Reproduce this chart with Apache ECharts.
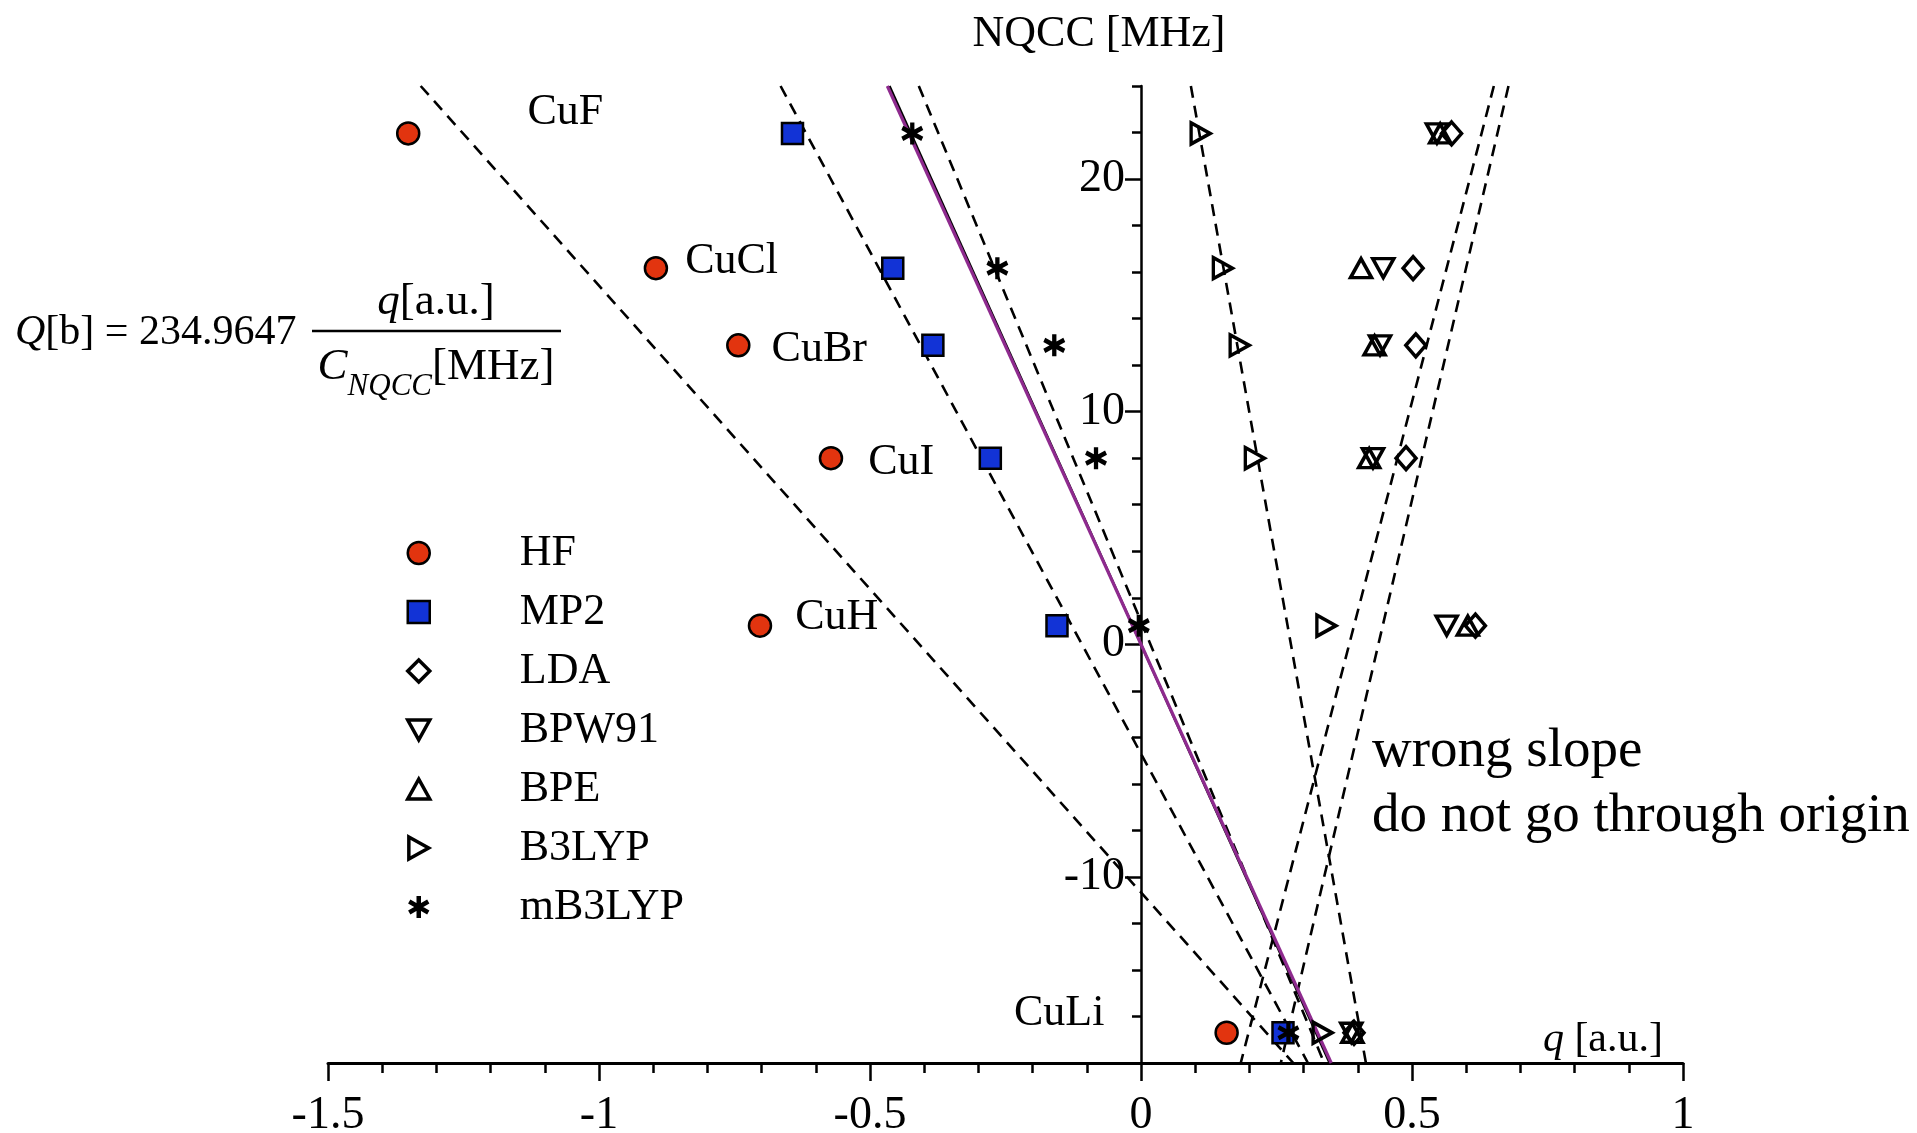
<!DOCTYPE html>
<html>
<head>
    <meta charset="UTF-8">
    <title>Cu NQCC vs field gradient</title>
    <style>
        html, body {
            margin: 0;
            padding: 0;
            width: 100%;
            height: 100%;
            overflow: hidden;
            background: #fff;
        }
        #main {
            width: 100%;
            height: 100%;
        }
    </style>
    <script src="https://cdn.jsdelivr.net/npm/echarts@6/dist/echarts.min.js"></script>
</head>
<body>
    <div id="main"></div>

    <script>
        // molecules and their NQCC [MHz] (vertical axis)
        const compounds = ['CuF', 'CuCl', 'CuBr', 'CuI', 'CuH', 'CuLi'];
        const nqcc = [21.96, 16.17, 12.85, 8.0, 0.8, -16.7];

        // field gradient q [a.u.] for each method, same order as compounds
        const qHF = [-1.352, -0.895, -0.743, -0.572, -0.703, 0.158];
        const qMP2 = [-0.643, -0.458, -0.384, -0.278, -0.155, 0.262];
        const qLDA = [0.573, 0.502, 0.507, 0.489, 0.617, 0.393];
        const qBPW91 = [0.546, 0.447, 0.441, 0.428, 0.564, 0.388];
        const qBPE = [0.552, 0.406, 0.431, 0.421, 0.603, 0.390];
        const qB3LYP = [0.110, 0.151, 0.182, 0.210, 0.342, 0.335];
        const qmB3LYP = [-0.422, -0.265, -0.160, -0.083, -0.004, 0.272];

        const methods = ['HF', 'MP2', 'LDA', 'BPW91', 'BPE', 'B3LYP', 'mB3LYP'];

        // fitted lines, end points as [q, NQCC]
        const lineHF = [[-1.329, 24], [0.281, -18]];
        const lineMP2 = [[-0.665, 24], [0.308, -18]];
        const linemB3LYP = [[-0.410, 24], [0.338, -18]];
        const lineB3LYP = [[0.092, 24], [0.415, -18]];
        const lineWrongA = [[0.651, 24], [0.184, -18]];
        const lineWrongB = [[0.678, 24], [0.258, -18]];
        const lineRefBlack = [[-0.464, 24], [0.348, -18]];
        const lineRefPurple = [[-0.468, 24], [0.351, -18]];

        // axes
        const xRange = [-1.5, 1];
        const yRange = [-18, 24];
        const yMajorTicks = [-10, 0, 10, 20];

        const SERIF = '"Liberation Serif", "Times New Roman", Times, serif';
        const RED = '#e2340f';
        const BLUE = '#1233d6';
        const PURPLE = '#8e2a8e';
        const OPEN = 'rgba(0,0,0,0)';

        const markers = {
            HF: { symbol: 'circle', size: 22, fill: RED, border: 2.5 },
            MP2: { symbol: 'rect', size: 21, fill: BLUE, border: 2.5 },
            LDA: { symbol: 'diamond', size: [20, 23], fill: OPEN, border: 3.5 },
            BPW91: { symbol: 'path://M0,0L20,0L10,18Z', size: [21, 19], fill: OPEN, border: 3.5 },
            BPE: { symbol: 'path://M10,0L20,18L0,18Z', size: [21, 19], fill: OPEN, border: 3.5 },
            B3LYP: { symbol: 'path://M0,0L18,10L0,20Z', size: [19, 21], fill: OPEN, border: 3.5 },
            mB3LYP: { symbol: 'path://M10,0L10,20M1.34,5L18.66,15M1.34,15L18.66,5', size: [20, 22], fill: OPEN, border: 4.5 }
        };

        // where the compound names sit next to the HF points
        const hfLabelPlace = {
            CuF: { position: 'right', distance: 107, offset: [0, -21] },
            CuCl: { position: 'right', distance: 17, offset: [0, -7] },
            CuBr: { position: 'right', distance: 21, offset: [0, 4] },
            CuI: { position: 'right', distance: 25, offset: [0, 4] },
            CuH: { position: 'right', distance: 23, offset: [0, -8] },
            CuLi: { position: 'left', distance: 110, offset: [0, -19] }
        };

        function initChart() {
            const chart = echarts.init(document.getElementById('main'));

            const qByMethod = {
                HF: qHF, MP2: qMP2, LDA: qLDA, BPW91: qBPW91,
                BPE: qBPE, B3LYP: qB3LYP, mB3LYP: qmB3LYP
            };

            const dashed = (data) => ({
                type: 'line',
                data: data,
                symbol: 'none',
                silent: true,
                lineStyle: { color: '#000', width: 2.6, type: [12, 8] }
            });

            const fitSeries = [lineHF, lineMP2, linemB3LYP, lineB3LYP, lineWrongA, lineWrongB].map(dashed);

            fitSeries.push({
                type: 'line', data: lineRefBlack, symbol: 'none', silent: true,
                lineStyle: { color: '#000', width: 2.4 }
            });
            fitSeries.push({
                type: 'line', data: lineRefPurple, symbol: 'none', silent: true,
                lineStyle: { color: PURPLE, width: 3.2 }
            });

            const pointSeries = methods.map((m) => {
                const mk = markers[m];
                const data = qByMethod[m].map((q, i) => {
                    const item = { name: compounds[i], value: [q, nqcc[i]] };
                    if (m === 'HF') {
                        const p = hfLabelPlace[compounds[i]];
                        item.label = {
                            show: true,
                            formatter: '{b}',
                            position: p.position,
                            distance: p.distance,
                            offset: p.offset,
                            fontFamily: SERIF,
                            fontSize: 44,
                            color: '#000'
                        };
                    }
                    return item;
                });
                return {
                    name: m,
                    type: 'scatter',
                    data: data,
                    symbol: mk.symbol,
                    symbolSize: mk.size,
                    itemStyle: {
                        color: mk.fill,
                        borderColor: '#000',
                        borderWidth: mk.border,
                        opacity: 1
                    },
                    z: 3
                };
            });

            // legend entries keep the same stroke weight as the marks
            const legendData = methods.map((m) => ({
                name: m,
                itemStyle: {
                    color: markers[m].fill,
                    borderColor: '#000',
                    borderWidth: markers[m].border
                }
            }));

            const option = {
                animation: false,
                backgroundColor: '#fff',
                textStyle: { fontFamily: SERIF, color: '#000' },
                grid: {
                    left: 328,
                    right: 234,
                    top: 86,
                    bottom: 70,
                    containLabel: false,
                    outerBoundsMode: 'none'
                },
                legend: {
                    data: legendData,
                    orient: 'vertical',
                    left: 406,
                    top: 531,
                    padding: 0,
                    itemWidth: 22,
                    itemHeight: 22,
                    itemGap: 15,
                    selectedMode: false,
                    textStyle: {
                        fontFamily: SERIF,
                        fontSize: 44,
                        lineHeight: 44,
                        color: '#000',
                        padding: [0, 0, 0, 85]
                    }
                },
                xAxis: {
                    type: 'value',
                    min: xRange[0],
                    max: xRange[1],
                    interval: 0.5,
                    name: '{i|q} [a.u.]',
                    nameLocation: 'end',
                    nameGap: -20,
                    nameTextStyle: {
                        fontFamily: SERIF,
                        fontSize: 42,
                        color: '#000',
                        align: 'right',
                        verticalAlign: 'bottom',
                        padding: [0, 0, 2, 0],
                        rich: { i: { fontStyle: 'italic', fontFamily: SERIF, fontSize: 42 } }
                    },
                    axisLine: { onZero: false, lineStyle: { color: '#000', width: 3 } },
                    axisTick: { length: 18, lineStyle: { color: '#000', width: 2.5 } },
                    minorTick: { show: true, splitNumber: 5, length: 10, lineStyle: { color: '#000', width: 2.5 } },
                    axisLabel: { fontFamily: SERIF, fontSize: 46, color: '#000', margin: 30 },
                    splitLine: { show: false },
                    minorSplitLine: { show: false }
                },
                yAxis: [
                    {
                        type: 'value',
                        min: yRange[0],
                        max: yRange[1],
                        interval: 2,
                        position: 'left',
                        offset: -813,
                        name: 'NQCC [MHz]',
                        nameLocation: 'end',
                        nameGap: 30,
                        nameTextStyle: {
                            fontFamily: SERIF,
                            fontSize: 44,
                            color: '#000',
                            padding: [0, 84, 0, 0]
                        },
                        axisLine: { show: true, onZero: false, lineStyle: { color: '#000', width: 2.5 } },
                        axisTick: { length: 9, lineStyle: { color: '#000', width: 2.5 } },
                        axisLabel: {
                            fontFamily: SERIF,
                            fontSize: 46,
                            color: '#000',
                            margin: 16,
                            formatter: (v) => (yMajorTicks.indexOf(v) >= 0 ? String(v) : '')
                        },
                        splitLine: { show: false }
                    },
                    {
                        type: 'value',
                        min: yRange[0],
                        max: yRange[1],
                        position: 'left',
                        offset: -813,
                        axisLine: { show: false, onZero: false },
                        axisTick: {
                            show: true,
                            customValues: yMajorTicks,
                            length: 16,
                            lineStyle: { color: '#000', width: 2.5 }
                        },
                        axisLabel: { show: false },
                        splitLine: { show: false }
                    }
                ],
                graphic: [
                    {
                        type: 'text',
                        x: 15,
                        y: 333,
                        style: {
                            text: '{i|Q}[b] = 234.9647',
                            fontFamily: SERIF,
                            fontSize: 42,
                            fill: '#000',
                            textAlign: 'left',
                            textVerticalAlign: 'middle',
                            rich: { i: { fontStyle: 'italic', fontFamily: SERIF, fontSize: 42 } }
                        }
                    },
                    {
                        type: 'text',
                        x: 436,
                        y: 302,
                        style: {
                            text: '{i|q}[a.u.]',
                            fontFamily: SERIF,
                            fontSize: 45,
                            fill: '#000',
                            textAlign: 'center',
                            textVerticalAlign: 'middle',
                            rich: { i: { fontStyle: 'italic', fontFamily: SERIF, fontSize: 45 } }
                        }
                    },
                    {
                        type: 'line',
                        shape: { x1: 312, y1: 331, x2: 561, y2: 331 },
                        style: { stroke: '#000', lineWidth: 2.5 }
                    },
                    {
                        type: 'text',
                        x: 436,
                        y: 370,
                        style: {
                            text: '{c|C}{s|NQCC}{n|[MHz]}',
                            fontFamily: SERIF,
                            fontSize: 45,
                            fill: '#000',
                            textAlign: 'center',
                            textVerticalAlign: 'middle',
                            rich: {
                                c: { fontStyle: 'italic', fontFamily: SERIF, fontSize: 45, lineHeight: 50, verticalAlign: 'top' },
                                s: { fontStyle: 'italic', fontFamily: SERIF, fontSize: 31, lineHeight: 31, padding: [26, 0, 0, 0], verticalAlign: 'top' },
                                n: { fontFamily: SERIF, fontSize: 45, lineHeight: 50, verticalAlign: 'top' }
                            }
                        }
                    },
                    {
                        type: 'text',
                        x: 1372,
                        y: 752,
                        style: {
                            text: 'wrong slope',
                            fontFamily: SERIF,
                            fontSize: 55,
                            fill: '#000',
                            textAlign: 'left',
                            textVerticalAlign: 'middle'
                        }
                    },
                    {
                        type: 'text',
                        x: 1372,
                        y: 817,
                        style: {
                            text: 'do not go through origin',
                            fontFamily: SERIF,
                            fontSize: 55,
                            fill: '#000',
                            textAlign: 'left',
                            textVerticalAlign: 'middle'
                        }
                    }
                ],
                series: fitSeries.concat(pointSeries)
            };

            chart.setOption(option);
            window.addEventListener('resize', () => chart.resize());
        }

        if (typeof echarts !== 'undefined') {
            initChart();
        } else {
            console.error('ECharts is not loaded');
        }
    </script>
</body>
</html>
